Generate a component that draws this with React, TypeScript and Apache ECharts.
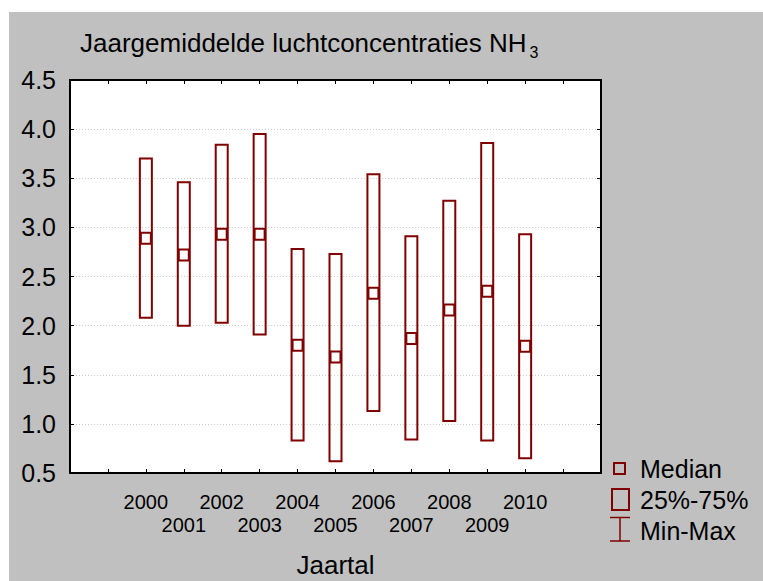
import React, { useEffect, useRef } from "react";
import * as echarts from "echarts";

const years = [2000, 2001, 2002, 2003, 2004, 2005, 2006, 2007, 2008, 2009, 2010];
const minValues = [2.08, 2.0, 2.03, 1.91, 0.83, 0.62, 1.13, 0.84, 1.03, 0.83, 0.65];
const maxValues = [3.7, 3.46, 3.84, 3.95, 2.78, 2.73, 3.54, 2.91, 3.27, 3.86, 2.93];
const medianValues = [2.89, 2.72, 2.93, 2.93, 1.8, 1.68, 2.33, 1.87, 2.16, 2.35, 1.79];

const titleText = "Jaargemiddelde luchtconcentraties NH";
const titleSub = "3";
const xAxisName = "Jaartal";
const legendLabels = ["Median", "25%-75%", "Min-Max"];

const X_MIN = 1998;
const X_MAX = 2012;
const Y_MIN = 0.5;
const Y_MAX = 4.5;
const Y_STEP = 0.5;

const COLOR = "#800000";
const FONT = "'Liberation Sans', Arial, Helvetica, sans-serif";

export default function App() {
  const ref = useRef<HTMLDivElement>(null);

  useEffect(() => {
    if (!ref.current) return;
    const chart = echarts.init(ref.current, null, { renderer: "svg" });
    const data = years.map((y, i) => [y, minValues[i], maxValues[i], medianValues[i]]);

    const frameLine = { show: true, onZero: false, lineStyle: { color: "#000", width: 2 } };
    const frameTick = { show: true, inside: true, length: 4, lineStyle: { color: "#000", width: 1 } };

    chart.setOption({
      animation: false,
      backgroundColor: "#c0c0c0",
      grid: {
        left: 61,
        top: 68,
        width: 531,
        height: 393,
        show: true,
        backgroundColor: "#ffffff",
        borderWidth: 0,
      },
      xAxis: [
        {
          type: "value",
          position: "bottom",
          min: X_MIN,
          max: X_MAX,
          interval: 1,
          axisLine: frameLine,
          axisTick: frameTick,
          splitLine: { show: false },
          axisLabel: {
            color: "#000",
            fontFamily: FONT,
            fontSize: 20,
            lineHeight: 23,
            margin: 17,
            formatter: (v: number) =>
              v < years[0] || v > years[years.length - 1] ? "" : v % 2 === 0 ? String(v) : "\n" + v,
          },
        },
        {
          type: "value",
          position: "top",
          min: X_MIN,
          max: X_MAX,
          interval: 1,
          axisLine: frameLine,
          axisTick: frameTick,
          splitLine: { show: false },
          axisLabel: { show: false },
        },
      ],
      yAxis: [
        {
          type: "value",
          position: "left",
          min: Y_MIN,
          max: Y_MAX,
          interval: Y_STEP,
          axisLine: frameLine,
          axisTick: frameTick,
          splitLine: { show: true, lineStyle: { color: "#cccccc", width: 1, type: [1, 2] } },
          axisLabel: {
            color: "#000",
            fontFamily: FONT,
            fontSize: 25,
            margin: 14,
            formatter: (v: number) => v.toFixed(1),
          },
        },
        {
          type: "value",
          position: "right",
          min: Y_MIN,
          max: Y_MAX,
          interval: Y_STEP,
          axisLine: frameLine,
          axisTick: frameTick,
          splitLine: { show: false },
          axisLabel: { show: false },
        },
      ],
      series: [
        {
          type: "custom",
          xAxisIndex: 0,
          yAxisIndex: 0,
          data,
          encode: { x: 0, y: [1, 2, 3] },
          renderItem: (params: any, api: any) => {
            const x = api.value(0);
            const top = api.coord([x, api.value(2)]);
            const bot = api.coord([x, api.value(1)]);
            const med = api.coord([x, api.value(3)]);
            const bw = 12;
            const mw = 10;
            const mh = 11;
            return {
              type: "group",
              children: [
                {
                  type: "rect",
                  shape: { x: top[0] - bw / 2, y: top[1], width: bw, height: bot[1] - top[1] },
                  style: { fill: "none", stroke: COLOR, lineWidth: 2 },
                },
                {
                  type: "rect",
                  shape: { x: med[0] - mw / 2, y: med[1] - mh / 2, width: mw, height: mh },
                  style: { fill: "none", stroke: COLOR, lineWidth: 2 },
                },
              ],
            };
          },
        },
      ],
      graphic: [
        {
          type: "text",
          x: 71,
          y: 31,
          style: {
            text: `{a|${titleText}}{b|${titleSub}}`,
            align: "left",
            verticalAlign: "middle",
            rich: {
              a: { fontSize: 26, fontFamily: FONT, fill: "#000", lineHeight: 34, verticalAlign: "middle" },
              b: {
                fontSize: 16,
                fontFamily: FONT,
                fill: "#000",
                lineHeight: 16,
                verticalAlign: "bottom",
                padding: [0, 0, 0, 3],
              },
            },
          },
        },
        {
          type: "text",
          x: 326.5,
          y: 553,
          style: {
            text: xAxisName,
            align: "center",
            verticalAlign: "middle",
            fontSize: 26,
            fontFamily: FONT,
            fill: "#000",
          },
        },
        {
          type: "rect",
          shape: { x: 605, y: 451, width: 11, height: 11 },
          style: { fill: "none", stroke: COLOR, lineWidth: 2 },
        },
        {
          type: "rect",
          shape: { x: 603, y: 477, width: 17, height: 21 },
          style: { fill: "none", stroke: COLOR, lineWidth: 2 },
        },
        {
          type: "line",
          shape: { x1: 601, y1: 505.5, x2: 621, y2: 505.5 },
          style: { stroke: COLOR, lineWidth: 1.5 },
        },
        {
          type: "line",
          shape: { x1: 611, y1: 505.5, x2: 611, y2: 529 },
          style: { stroke: COLOR, lineWidth: 1.5 },
        },
        {
          type: "line",
          shape: { x1: 601, y1: 529, x2: 621, y2: 529 },
          style: { stroke: COLOR, lineWidth: 1.5 },
        },
        ...legendLabels.map((t, i) => ({
          type: "text",
          x: 631,
          y: 457 + i * 31,
          style: {
            text: t,
            align: "left",
            verticalAlign: "middle",
            fontSize: 25,
            fontFamily: FONT,
            fill: "#000",
          },
        })),
      ],
    });

    return () => {
      chart.dispose();
    };
  }, []);

  return (
    <div
      ref={ref}
      style={{ position: "absolute", left: 9, top: 12, width: 754, height: 569 }}
    />
  );
}
